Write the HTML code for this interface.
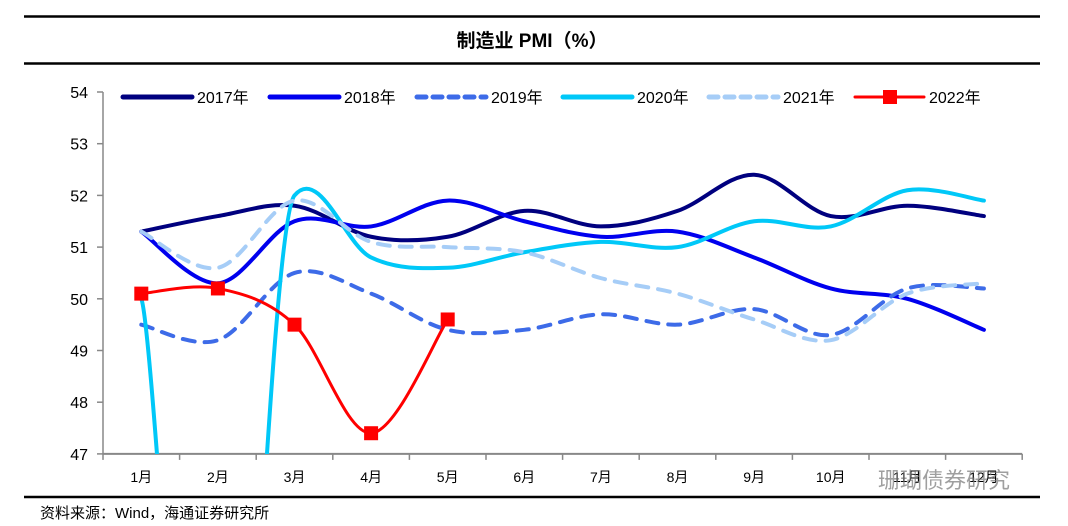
<!DOCTYPE html>
<html><head><meta charset="utf-8"><style>
html,body{margin:0;padding:0;background:#fff;width:1068px;height:526px;overflow:hidden;font-family:"Liberation Sans","Noto Sans CJK SC",sans-serif}
svg{display:block}
</style></head><body>
<svg width="1068" height="526" xmlns="http://www.w3.org/2000/svg">
<line x1="24" y1="16.5" x2="1040" y2="16.5" stroke="#000" stroke-width="2.5"/>
<line x1="24" y1="63.5" x2="1040" y2="63.5" stroke="#000" stroke-width="2.5"/>
<text x="532" y="47" text-anchor="middle" font-size="19" font-weight="bold" font-family="'Liberation Sans','Noto Sans CJK SC',sans-serif">制造业 PMI（%）</text>
<line x1="24" y1="497" x2="1040" y2="497" stroke="#000" stroke-width="2.5"/>
<text x="40" y="518" font-size="15" font-family="'Liberation Sans','Noto Sans CJK SC',sans-serif">资料来源：Wind，海通证券研究所</text>
<g id="axes"></g>
<defs><clipPath id="clip"><rect x="103" y="80" width="930" height="374"/></clipPath></defs>
<g id="series" clip-path="url(#clip)"></g>
<g id="legend"></g>
<text x="878" y="488" font-size="22" fill="#777" opacity="0.7" font-family="'Noto Sans CJK SC',sans-serif">珊瑚债券研究</text>
</svg>
<script>
const categories=["1月","2月","3月","4月","5月","6月","7月","8月","9月","10月","11月","12月"];
const yTicks=[47,48,49,50,51,52,53,54];
const s2017=[51.3,51.6,51.8,51.2,51.2,51.7,51.4,51.7,52.4,51.6,51.8,51.6];
const s2018=[51.3,50.3,51.5,51.4,51.9,51.5,51.2,51.3,50.8,50.2,50.0,49.4];
const s2019=[49.5,49.2,50.5,50.1,49.4,49.4,49.7,49.5,49.8,49.3,50.2,50.2];
const s2020=[50.0,35.7,52.0,50.8,50.6,50.9,51.1,51.0,51.5,51.4,52.1,51.9];
const s2021=[51.3,50.6,51.9,51.1,51.0,50.9,50.4,50.1,49.6,49.2,50.1,50.3];
const s2022=[50.1,50.2,49.5,47.4,49.6];
const seriesNames=["2017年","2018年","2019年","2020年","2021年","2022年"];
const NS="http://www.w3.org/2000/svg";
const X0=103,STEP=76.6,Y54=92,PU=51.7;
const xs=i=>X0+STEP*(i+0.5);
const ys=v=>Y54+(54-v)*PU;
function mk(t,a,p){const e=document.createElementNS(NS,t);for(const k in a)e.setAttribute(k,a[k]);p.appendChild(e);return e;}
const ax=document.getElementById('axes');
const yl=mk('line',{x1:X0,y1:Y54,x2:X0,y2:ys(47),stroke:'#888','stroke-width':1.5},ax);


yTicks.forEach(v=>{
 const t=mk('line',{x1:X0-6,y1:ys(v),x2:X0,y2:ys(v),stroke:'#888','stroke-width':1.5},ax);
 
 
 const l=mk('text',{x:X0-15,y:ys(v)+6,'text-anchor':'end','font-size':16},ax);l.textContent=v;
 
 
});
const xl=mk('line',{x1:X0,y1:ys(47),x2:X0+STEP*12,y2:ys(47),stroke:'#888','stroke-width':2},ax);


for(let i=0;i<=12;i++){const t=mk('line',{x1:X0+STEP*i,y1:ys(47),x2:X0+STEP*i,y2:ys(47)+6,stroke:'#888','stroke-width':1.5},ax);
 
 }
categories.forEach((c,i)=>{const l=mk('text',{x:xs(i),y:482,'text-anchor':'middle','font-size':14},ax);l.textContent=c;
 
 });
const cap=v=>Math.max(-30,Math.min(30,v));
function smooth(vals){const p=vals.map((v,i)=>[xs(i),ys(v)]);let d=`M${p[0][0]},${p[0][1]}`;
 for(let i=0;i<p.length-1;i++){const a=p[Math.max(0,i-1)],b=p[i],c=p[i+1],e=p[Math.min(p.length-1,i+2)];const k=1/6;
 d+=` C${b[0]+(c[0]-a[0])*k},${b[1]+cap((c[1]-a[1])*k)} ${c[0]-(e[0]-b[0])*k},${c[1]-cap((e[1]-b[1])*k)} ${c[0]},${c[1]}`;}return d;}
const styles=[{c:'#00007f',d:''},{c:'#0000ee',d:''},{c:'#3d6be8',d:'12 10'},{c:'#00c8f8',d:''},{c:'#a6cdf7',d:'12 10'},{c:'#ff0000',d:''}];
const data=[s2017,s2018,s2019,s2020,s2021,s2022];
const sg=document.getElementById('series');
data.forEach((vals,k)=>{const st=styles[k];
 const p=mk('path',{d:smooth(vals),fill:'none',stroke:st.c,'stroke-width':k==5?3:4,'stroke-dasharray':st.d,'stroke-linecap':'round'},sg);
 
 
});
s2022.forEach((v,i)=>{const r=mk('rect',{x:xs(i)-7,y:ys(v)-7,width:14,height:14,fill:'#ff0000'},sg);
 
 });
const lg=document.getElementById('legend');
const lx=[123,270,417,563,709,855];
seriesNames.forEach((n,k)=>{const st=styles[k];const x=lx[k];
 const l=mk('line',{x1:x,y1:97,x2:x+69,y2:97,stroke:st.c,'stroke-width':k==5?3:5,'stroke-dasharray':st.d?'9 7':'','stroke-linecap':'round'},lg);
 
 
 if(k==5){const r=mk('rect',{x:x+28,y:90,width:14,height:14,fill:'#ff0000'},lg);
  
  }
 const t=mk('text',{x:x+74,y:103,'font-size':16},lg);t.textContent=n;
 
 
});
</script>
</body></html>
